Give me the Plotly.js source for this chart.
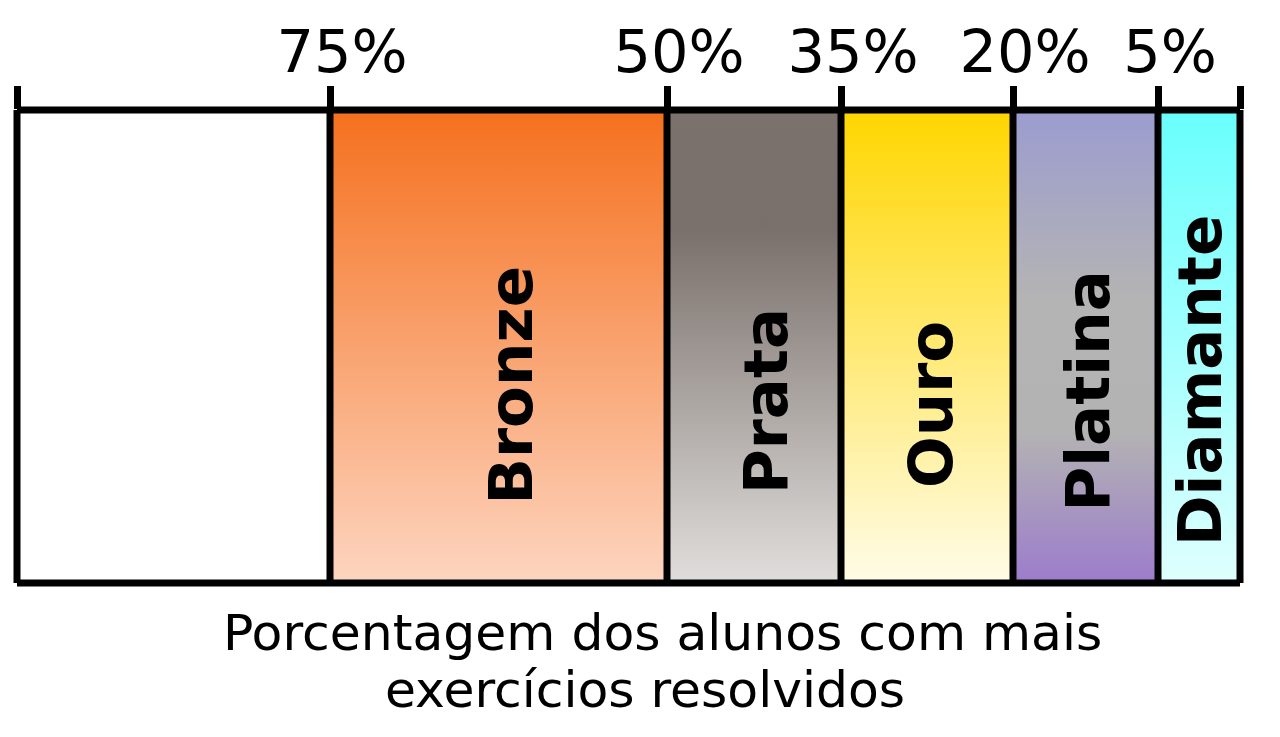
<!DOCTYPE html>
<html>
<head>
<meta charset="utf-8">
<script src="https://cdn.plot.ly/plotly-3.0.1.min.js"></script>
<style>html,body{margin:0;padding:0;background:#fff;}#chart{width:1280px;height:737px;}</style>
</head>
<body>
<div id="chart"></div>
<script>
// Tiers from left (lowest) to right (highest)
const tiers = ['', 'Bronze', 'Prata', 'Ouro', 'Platina', 'Diamante'];
// Relative band widths (the scale is not linear in %)
const bandWidths = [313, 337, 174, 172, 145, 82];
// Boundary labels (between bands)
const boundaryLabels = ['75%', '50%', '35%', '20%', '5%'];
// Gradient colours per tier, bottom -> top
const tierColors = [
  [[0, '#ffffff'], [1, '#ffffff']],
  [[0, '#fdd5c0'], [1, '#f5701e']],
  [[0, '#e0dedc'], [0.75, '#7a706b'], [1, '#7c726d']],
  [[0, '#fffce8'], [1, '#ffd600']],
  [[0, '#9c7ccc'], [0.32, '#b3b3b3'], [0.6, '#b4b4b4'], [1, '#9c9cd0']],
  [[0, '#dffffe'], [1, '#68fffd']]
];
const axisTitleLines = ['Porcentagem dos alunos com mais', 'exercícios resolvidos'];

// label placement tweaks (style only)
const labelXShift = [0, 12, 11, 3, 2, 0];
const labelYShift = [0, 4, -12, -16, -2, 8];

const edges = [0];
bandWidths.forEach(w => edges.push(edges[edges.length - 1] + w));
const total = edges[edges.length - 1];

const traces = tiers.map((name, i) => {
  const x0 = edges[i], x1 = edges[i + 1];
  return {
    type: 'scatter', mode: 'lines',
    x: [x0, x1, x1, x0, x0],
    y: [0, 0, 1, 1, 0],
    fill: 'toself',
    fillgradient: {type: 'vertical', colorscale: tierColors[i], start: 0, stop: 1},
    line: {color: 'rgba(0,0,0,0)', width: 0},
    cliponaxis: false,
    hoverinfo: 'skip',
    showlegend: false
  };
});

// outline shapes: frame + band boundaries (paper refs so outer edges are not clipped)
const lineStyle = {color: '#000', width: 7};
const shapes = [
  {type: 'line', xref: 'paper', yref: 'paper', x0: 0, x1: 1, y0: 0, y1: 0, line: lineStyle, layer: 'above'},
  {type: 'line', xref: 'paper', yref: 'paper', x0: 0, x1: 1, y0: 1, y1: 1, line: lineStyle, layer: 'above'}
];
edges.forEach(e => shapes.push({type: 'line', xref: 'paper', yref: 'paper', x0: e / total, x1: e / total, y0: 0, y1: 1, line: lineStyle, layer: 'above'}));

const annotations = [];
tiers.forEach((name, i) => {
  if (!name) return;
  annotations.push({
    x: (edges[i] + edges[i + 1]) / 2, y: 0.41, xref: 'x', yref: 'y',
    xshift: labelXShift[i], yshift: labelYShift[i],
    text: name, textangle: -90, showarrow: false,
    font: {family: 'DejaVu Sans', size: 61, color: '#000', weight: 'bold'},
    xanchor: 'center', yanchor: 'middle'
  });
});
annotations.push({
  x: 0.528, y: -0.105, xref: 'paper', yref: 'paper', text: axisTitleLines[0],
  showarrow: false, font: {family: 'DejaVu Sans', size: 50.4, color: '#000'},
  xanchor: 'center', yanchor: 'middle'
});
annotations.push({
  x: 0.5135, y: -0.226, xref: 'paper', yref: 'paper', text: axisTitleLines[1],
  showarrow: false, font: {family: 'DejaVu Sans', size: 50.4, color: '#000'},
  xanchor: 'center', yanchor: 'middle'
});

const layout = {
  width: 1280, height: 737,
  margin: {l: 17, r: 40, t: 110, b: 154},
  paper_bgcolor: '#fff', plot_bgcolor: '#fff',
  xaxis: {
    range: [0, total], side: 'top', showgrid: false, zeroline: false, showline: false,
    tickmode: 'array', tickvals: edges, ticktext: [''].concat(boundaryLabels, ['']),
    ticks: 'outside', ticklen: 23, tickwidth: 7, tickcolor: '#000',
    ticklabelstandoff: -10, ticklabelshift: 12,
    tickfont: {family: 'DejaVu Sans', size: 59, color: '#000'},
    fixedrange: true
  },
  yaxis: {range: [0, 1], visible: false, fixedrange: true},
  shapes: shapes,
  annotations: annotations
};

Plotly.newPlot('chart', traces, layout, {staticPlot: true, displayModeBar: false});
</script>
</body>
</html>
